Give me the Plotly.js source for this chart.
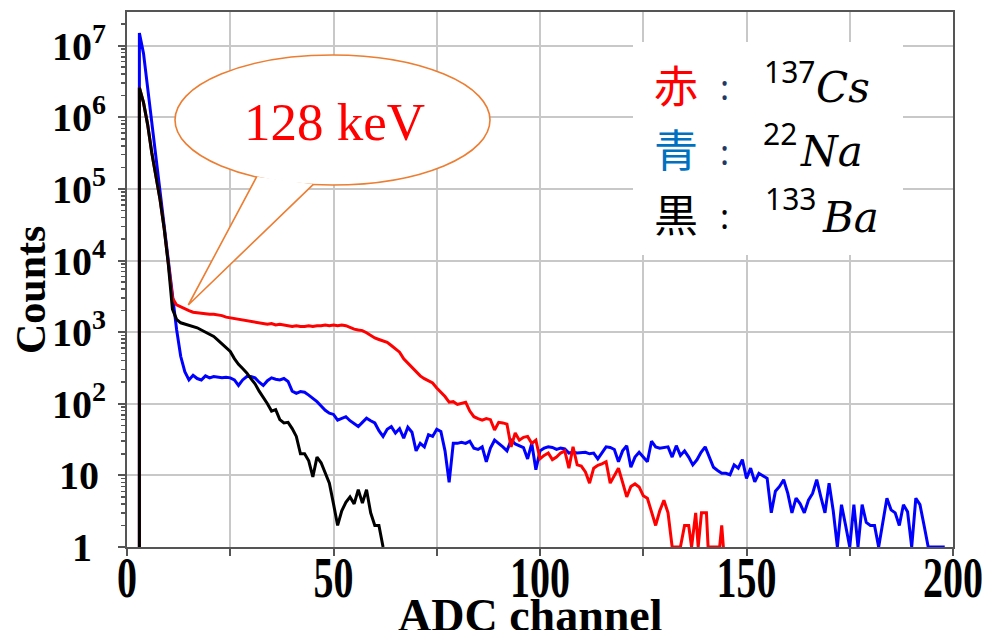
<!DOCTYPE html>
<html>
<head>
<meta charset="utf-8">
<script src="https://cdn.plot.ly/plotly-3.0.1.min.js"></script>
<style>
  html, body { margin: 0; padding: 0; background: #ffffff; }
  #chart { width: 987px; height: 630px; }
</style>
</head>
<body>
<div id="chart"></div>
<script>
// ---------------- data ----------------
// 22Na (blue)
const naChannel = [3,3,4,5,6,7,8,9,10,11,12,13,14,15,16,17,18,19,20,21,22,23,24,25,26,27,28,29,30,
  31,32,33,34,35,36,37,38,39,40,41,42,43,44,45,46,47,48,49,50,51,52,53,54,55,56,57,58,59,60,
  61,62,63,64,65,66,67,68,69,70,71,72,73,74,75,76,77,78,79,80,81,82,83,84,85,86,87,88,89,90,
  91,92,93,94,95,96,97,98,99,100,101,102,103,104,105,106,107,108,109,110,111,112,113,114,115,
  116,117,118,119,120,121,122,123,124,125,126,127,128,129,130,131,132,133,134,135,136,137,138,
  139,140,141,142,143,144,145,146,147,148,149,150,151,152,153,154,155,156,157,158,159,160,161,
  162,163,164,165,166,167,168,169,170,171,172,173,174,175,176,177,178,179,180,181,182,184,185,
  186,187,188,189,190,191,192,193,194,195,196,197,198];
const naCounts = [0.5,1.5e7,7.8e6,2.6e6,8.5e5,2.8e5,9.1e4,3.0e4,1.0e4,3300,1100,460,280,215,250,225,215,245,230,240,235,230,235,230,215,180,215,240,240,
  230,200,180,210,230,220,215,225,205,150,140,148,145,132,120,107,93,81,74,71,59,63,66,58,52,48,55,63,58,54,
  42,35,44,48,39,45,33,47,40,22,28,25,37,35,44,41,22,8,28,28,29,28,30,24,23,25,15.5,24,31,28,
  25,22,31,27.5,26,24.5,17,28,12,22,24,25,24.5,23,24,23.5,20.5,21,20.5,21,21,20,20.5,17,21,
  25,24.5,23,15.5,22,26,13,18,21,18,15.5,30,25,24,24.5,25,18,26,19,22,18,14,16.5,
  21,25,18,13,11.7,10.7,10.7,10.2,14,12.6,16.6,9.1,12.6,8.1,10.7,9.8,9.1,3,6,7,8.7,5.6,3,
  4.8,4,3,4.5,5.6,8.7,5,3,7.8,3.2,1,3.9,2,1,3.9,1,3.9,2.2,2,2,1,4.8,3.3,
  3,2,3.9,3.1,1,4.8,3.9,2,1,1,1,1,1];

// 137Cs (red)
const csChannel = [3,3,4,5,6,7,8,9,10,11,12,13,14,15,16,17,18,19,20,21,22,23,24,25,26,27,28,29,30,
  31,32,33,34,35,36,37,38,39,40,41,42,43,44,45,46,47,48,49,50,51,52,53,54,55,56,57,58,59,60,
  61,62,63,64,65,66,67,68,69,70,71,72,73,74,75,76,77,78,79,80,81,82,83,84,85,86,87,88,89,90,
  91,92,93,94,95,96,97,98,99,100,101,102,103,104,105,106,107,108,109,110,111,112,113,114,115,
  116,117,118,119,120,121,122,123,124,125,126,127,128,129,130,131,132,134,135,136,136.7,137.7,
  138.3,139.1,140.3,140.7,143.5,144,144.4];
const csCounts = [0.5,2.6e6,1.6e6,7.9e5,3.2e5,1.6e5,7.1e4,2.8e4,8900,3000,2400,2240,2090,2000,1900,1860,1860,1820,1780,1780,1740,1700,1620,1580,1550,1510,1480,1450,1410,
  1380,1350,1320,1290,1320,1260,1290,1260,1230,1200,1230,1200,1200,1230,1200,1230,1230,1260,1230,1260,1230,1260,1230,1150,1100,1070,1050,980,890,830,
  790,760,720,650,575,525,425,370,316,275,245,224,209,195,166,145,126,105,107,98,102,105,79,66,62,59,62,60,43,55,
  54,52,25,39,31,34,35,28,31,17,19,20.5,16.6,18,20.5,22,12.6,25,14,13.5,11.2,7.8,12.6,13.8,14.5,
  15.5,7.8,10,12.6,8,5,7,7.6,6.9,5.2,4.8,3.2,2,3.2,4.5,3,1,1,2,2,1,3,
  1,3,3,1,1,2,1];

// 133Ba (black)
const baChannel = [3,3,4,5,6,7,8,9,10,11,12,13,14,15,16,17,18,19,20,21,22,23,24,25,26,27,28,29,30,
  31,32,33,34,35,36,37,38,39,40,41,42,43,44,45,46,47,48,49,50,51,52,53,54,55,56,57,58,59,60,61,62];
const baCounts = [0.5,2.6e6,1.6e6,7.9e5,3.2e5,1.6e5,7.1e4,2.8e4,8900,2100,1510,1350,1290,1230,1175,1150,1070,1000,910,870,776,690,600,537,427,355,310,270,224,
  190,150,123,100,79,83,60,54,55,45,35,20,20,16,9.5,18,15,11,7.8,4,2,3.2,4.2,5,4,6.3,4.1,6.3,3,2,2,1];

// axis ticks and titles
const xTickVals = [0,25,50,75,100,125,150,175,200];
const xTickText = ['0','','50','','100','','150','','200'];
const yTickVals = [1,10,100,1e3,1e4,1e5,1e6,1e7];
const yTickText = ['1<sup>\u00a0\u00a0</sup>','10<sup>\u00a0</sup>','10<sup>2</sup>','10<sup>3</sup>','10<sup>4</sup>','10<sup>5</sup>','10<sup>6</sup>','10<sup>7</sup>'];
const xTitle = 'ADC channel';
const yTitle = 'Counts';

// legend text
const legendNames = ['赤','青','黒'];
const legendColors = ['#FF0000','#0070C0','#000000'];
const legendColonColors = ['#1F3864','#1F3864','#000000'];
const isotopeMass = ['137','22','133'];
const isotopeSymbol = ['Cs','Na','Ba'];
const calloutText = '128 keV';

// ---------------- layout helpers (pixel -> paper) ----------------
const L = 127, R = 953, T = 12, B = 547;
const px = v => (v - L) / (R - L);
const py = v => (B - v) / (B - T);

const minorVals = [];
for (let d = 1; d < 1e8; d *= 10) for (let m = 2; m <= 9; m++) minorVals.push(m * d);

const serif = 'Liberation Serif';
const lineW = 3;

const traces = [
  {x: naChannel, y: naCounts, type: 'scatter', mode: 'lines', line: {color: '#0000FF', width: lineW}, name: '22Na'},
  {x: csChannel, y: csCounts, type: 'scatter', mode: 'lines', line: {color: '#FF0000', width: lineW}, name: '137Cs'},
  {x: baChannel, y: baCounts, type: 'scatter', mode: 'lines', line: {color: '#000000', width: lineW}, name: '133Ba'}
];

const orange = '#ED7D31';
const shapes = [
  // white legend panel
  {type: 'rect', xref: 'paper', yref: 'paper', x0: px(633), x1: px(903), y0: py(255), y1: py(42),
   fillcolor: '#FFFFFF', line: {width: 0}, layer: 'above'},
  // callout ellipse
  {type: 'circle', xref: 'paper', yref: 'paper', x0: px(175), x1: px(490), y0: py(185), y1: py(55),
   fillcolor: '#FFFFFF', line: {color: orange, width: 1.6}, layer: 'above'},
  // callout tail
  {type: 'path', xref: 'paper', yref: 'paper',
   path: 'M ' + px(256.7) + ' ' + py(176.7) + ' L ' + px(188.3) + ' ' + py(305) + ' L ' + px(313.3) + ' ' + py(184.3),
   fillcolor: '#FFFFFF', line: {color: orange, width: 1.6}, layer: 'above'}
];

const annotations = [
  {xref: 'paper', yref: 'paper', x: px(334), y: py(122), xanchor: 'center', yanchor: 'middle',
   text: calloutText, showarrow: false, font: {family: serif, size: 53, color: '#FF0000'}},
  {xref: 'paper', yref: 'paper', x: px(530), y: py(615), xanchor: 'center', yanchor: 'middle',
   text: xTitle, showarrow: false, font: {family: serif, size: 46, color: '#000000', weight: 'bold'}},
  {xref: 'paper', yref: 'paper', x: px(31), y: py(290), xanchor: 'center', yanchor: 'middle', textangle: -90,
   text: yTitle, showarrow: false, font: {family: serif, size: 42, color: '#000000', weight: 'bold'}}
];
const rowY = [84, 148.5, 213];
const supY = [71, 134, 199];
const symY = [87, 151, 218];
const supX = [789, 780, 790];
const symX = [843, 831, 850];
for (let i = 0; i < 3; i++) {
  annotations.push({xref: 'paper', yref: 'paper', x: px(676), y: py(rowY[i]), xanchor: 'center', yanchor: 'middle',
    text: legendNames[i], showarrow: false, font: {family: 'Noto Sans CJK JP', size: 44, color: legendColors[i]}});
  annotations.push({xref: 'paper', yref: 'paper', x: px(724), y: py(rowY[i] + 3), xanchor: 'center', yanchor: 'middle',
    text: ':', showarrow: false, font: {family: 'Noto Sans', size: 34, color: legendColonColors[i]}});
  annotations.push({xref: 'paper', yref: 'paper', x: px(supX[i]), y: py(supY[i]), xanchor: 'center', yanchor: 'middle',
    text: isotopeMass[i], showarrow: false, font: {family: 'Noto Sans', size: 30, color: '#000000'}});
  annotations.push({xref: 'paper', yref: 'paper', x: px(symX[i]), y: py(symY[i]), xanchor: 'center', yanchor: 'middle',
    text: '<i>' + isotopeSymbol[i] + '</i>', showarrow: false, font: {family: 'DejaVu Serif', size: 42, color: '#000000'}});
}

const layout = {
  width: 987, height: 630,
  margin: {l: L, r: 987 - R, t: T, b: 630 - B},
  paper_bgcolor: '#FFFFFF', plot_bgcolor: '#FFFFFF',
  showlegend: false,
  hovermode: false,
  font: {family: serif, color: '#000000'},
  xaxis: {
    range: [0, 200], tickmode: 'array', tickvals: xTickVals, ticktext: xTickText,
    showgrid: true, gridcolor: '#C8C8C8', gridwidth: 2, zeroline: false,
    showline: true, linecolor: '#555555', linewidth: 2, mirror: true,
    ticks: 'outside', ticklen: 7, tickwidth: 2, tickcolor: '#555555', ticklabelstandoff: -12,
    tickfont: {family: serif, size: 40, color: '#000000', weight: 'bold'},
    automargin: false
  },
  yaxis: {
    type: 'log', range: [0, 7.47], tickmode: 'array', tickvals: yTickVals, ticktext: yTickText,
    showgrid: true, gridcolor: '#C8C8C8', gridwidth: 2, zeroline: false,
    showline: true, linecolor: '#555555', linewidth: 2, mirror: true,
    ticks: 'outside', ticklen: 7, tickwidth: 2, tickcolor: '#555555', ticklabelstandoff: 4,
    minor: {tickmode: 'array', tickvals: minorVals, ticks: 'outside', ticklen: 4, tickwidth: 1.5, tickcolor: '#555555', showgrid: false},
    tickfont: {family: serif, size: 40, color: '#000000', weight: 'bold'},
    automargin: false
  },
  shapes: shapes,
  annotations: annotations
};

Plotly.newPlot('chart', traces, layout, {displayModeBar: false, staticPlot: true}).then(function (gd) {
  // the reference's x tick numbers are drawn taller than usual: stretch them vertically about their centre
  try {
    gd.querySelectorAll('g.xtick text').forEach(function (t) {
      if (!t.textContent) return;
      const bb = t.getBBox();
      const cy = bb.y + bb.height / 2;
      const tr = t.getAttribute('transform') || '';
      t.setAttribute('transform', tr + ' translate(0,' + cy + ') scale(1,1.4) translate(0,' + (-cy) + ')');
    });
  } catch (e) {}
});
</script>
</body>
</html>
